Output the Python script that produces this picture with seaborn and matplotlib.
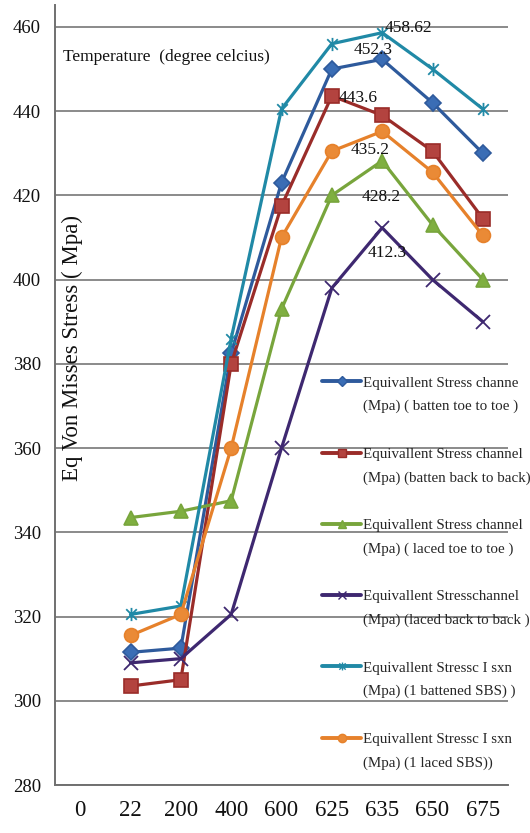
import matplotlib
matplotlib.use("Agg")
import matplotlib.pyplot as plt
import seaborn as sns
from matplotlib.lines import Line2D
from matplotlib.path import Path

# ---------------- data ----------------
categories = ["0", "22", "200", "400", "600", "625", "635", "650", "675"]
temps = ["22", "200", "400", "600", "625", "635", "650", "675"]

batten_toe = [311.5, 312.5, 382.5, 423, 450, 452.3, 442, 430]
batten_back = [303.5, 305, 380, 417.5, 443.6, 439, 430.5, 414.5]
laced_toe = [343.5, 345, 347.5, 393, 420, 428.2, 413, 400]
laced_back = [309, 310, 320.5, 360, 398, 412.3, 400, 390]
sbs_battened = [320.5, 322.5, 386, 440.5, 456, 458.62, 450, 440.5]
sbs_laced = [315.5, 320.5, 360, 410, 430.5, 435.2, 425.5, 410.5]

yticks = [280, 300, 320, 340, 360, 380, 400, 420, 440, 460]

legend_line1 = [
    "Equivallent Stress channe",
    "Equivallent Stress channel",
    "Equivallent Stress channel",
    "Equivallent Stresschannel",
    "Equivallent Stressc I sxn",
    "Equivallent Stressc I sxn",
]
legend_line2 = [
    "(Mpa) ( batten toe to toe )",
    "(Mpa) (batten back to back)",
    "(Mpa) ( laced toe to toe )",
    "(Mpa) (laced back to back )",
    "(Mpa) (1 battened SBS) )",
    "(Mpa) (1 laced SBS))",
]

# ---------------- style ----------------
sns.set_theme(style="white")
plt.rcParams["font.family"] = ["Liberation Serif", "DejaVu Serif"]

star = Path(
    [(-1, -1), (1, 1), (-1, 1), (1, -1), (0, -1.25), (0, 1.25)],
    [Path.MOVETO, Path.LINETO, Path.MOVETO, Path.LINETO, Path.MOVETO, Path.LINETO],
)

styles = [
    # values, line color, face color, marker, markersize
    (batten_toe, "#2E5A9C", "#3A6DB5", "D", 8.5),
    (batten_back, "#9A2C29", "#B3433F", "s", 10),
    (laced_toe, "#78A53C", "#7FAF40", "^", 10.5),
    (laced_back, "#3E2870", "#3E2870", "x", 10.5),
    (sbs_battened, "#2089A6", "#2089A6", star, 9.5),
    (sbs_laced, "#E6812B", "#EA8A36", "o", 10),
]

fig = plt.figure(figsize=(5.30, 8.33), dpi=100)
ax = fig.add_axes([55 / 530, 1 - 785 / 833, 453 / 530, 780 / 833])

for vals, lc, fc, mk, ms in styles:
    sns.pointplot(
        x=temps, y=vals, order=categories, color=lc, markers=mk,
        linestyles="-", errorbar=None, ax=ax,
        linewidth=2.3, markersize=ms, markeredgewidth=1.2,
    )
    ln = ax.lines[-1]
    ln.set_markerfacecolor(fc)
    ln.set_markeredgecolor(lc)
    if mk in ("x",) or mk is star:
        ln.set_markeredgewidth(1.3)

ax.set_xlim(-0.5, len(categories) - 0.5)
ax.set_ylim(280, 465.2)
ax.set_yticks(yticks)
ax.set_yticklabels([str(t) for t in yticks])
ax.yaxis.grid(True, color="#8A8A8A", linewidth=1.4)
ax.xaxis.grid(False)
ax.set_axisbelow(True)

for side in ("top", "right"):
    ax.spines[side].set_visible(False)
for side in ("left", "bottom"):
    ax.spines[side].set_color("#707070")
    ax.spines[side].set_linewidth(1.4)

ax.tick_params(axis="y", length=0, pad=10, labelsize=13.5, labelcolor="#111111")
ax.tick_params(axis="x", length=0, pad=11, labelsize=16.5, labelcolor="#111111")

ax.set_xlabel("")
ax.set_ylabel("Eq Von Misses Stress ( Mpa)", fontsize=16.5, va="center", ha="center",
              color="#111111")
ax.yaxis.set_label_coords(0.0375, 0.56)

ax.text(0.018, 0.933, "Temperature  (degree celcius)", transform=ax.transAxes,
        ha="left", va="center", fontsize=12.5, color="#111111")

# data labels
i635 = categories.index("635")
i625 = categories.index("625")
labels = [
    (i635, sbs_battened[temps.index("635")], (2, 3.6), "left"),
    (i635, batten_toe[temps.index("635")], (-6.5, 6.5), "center"),
    (i625, batten_back[temps.index("625")], (5, -1.5), "left"),
    (i635, sbs_laced[temps.index("635")], (-8.6, -13.7), "center"),
    (i635, laced_toe[temps.index("635")], (-0.7, -26), "center"),
    (i635, laced_back[temps.index("635")], (3.6, -18), "center"),
]
for xi, v, off, ha in labels:
    ax.annotate(f"{v:g}", xy=(xi, v), xytext=off, textcoords="offset points",
                ha=ha, va="center", fontsize=12.5, color="#111111")

# legend: each series gets two text rows plus a spacer row
handles, texts = [], []
for (vals, lc, fc, mk, ms), l1, l2 in zip(styles, legend_line1, legend_line2):
    handles.append(Line2D([0], [0], color=lc, marker=mk, markersize=ms * 0.6,
                          markerfacecolor=fc, markeredgecolor=lc, linewidth=2.8))
    texts.append(l1)
    handles.append(Line2D([], [], linestyle="none"))
    texts.append(l2)
    handles.append(Line2D([], [], linestyle="none"))
    texts.append(" ")
handles, texts = handles[:-1], texts[:-1]

ax.legend(handles, texts, loc="upper left",
          bbox_to_anchor=(322 / 530, 1 - 376 / 833), bbox_transform=fig.transFigure,
          frameon=False, fontsize=10.8, handlelength=2.6, handletextpad=0.15,
          labelspacing=0.68, borderpad=0, borderaxespad=0)

fig.savefig("out.png", dpi=100)
